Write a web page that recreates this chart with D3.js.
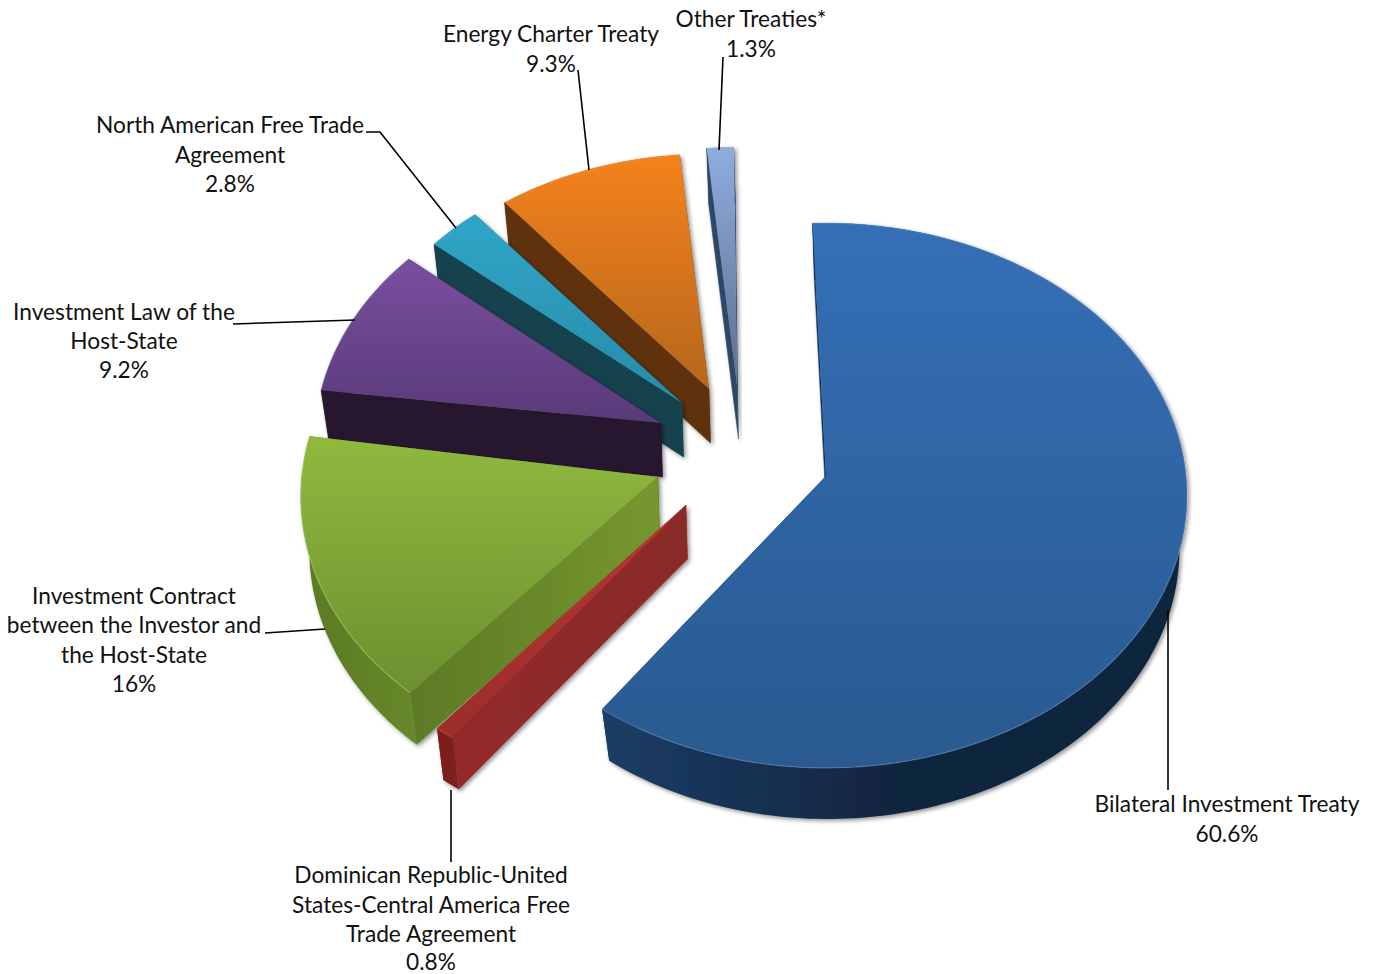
<!DOCTYPE html>
<html><head><meta charset="utf-8">
<script src="https://cdn.jsdelivr.net/npm/d3@7"></script>
<style>html,body{margin:0;padding:0;background:#fff}svg{display:block}
text{font-family:Lato,"Open Sans",sans-serif;font-size:22.7px;fill:#111;text-anchor:middle}</style>
</head><body><svg id="c" width="1375" height="974"></svg>
<script>
const categories = ["Bilateral Investment Treaty","Dominican Republic-United States-Central America Free Trade Agreement","Investment Contract between the Investor and the Host-State","Investment Law of the Host-State","North American Free Trade Agreement","Energy Charter Treaty","Other Treaties*"];
const shares = [60.6,0.8,16,9.2,2.8,9.3,1.3];
const valueLabels = ["60.6%","0.8%","16%","9.2%","2.8%","9.3%","1.3%"];

// layout of the exploded slices (screen offsets and per-slice fit)
const apexX = [826,686,658,661,682,709,737];
const apexY = [476,505,477,423,403,389,385];
const scaleX = [1,1.048,.99,.96,.93,.96,1];
const scaleY = [1,.995,1,.98,.967,.93,.94];
const turn = [.2,0,2.6,1,0,2,2];
const lowX = [.975,.98,.98,.98,.98,.98,.98];
const topTones = [["#356fb7","#295a90"],["#b83434","#9c2d2b"],["#90b93e","#6d8f30"],["#7a4fa0","#583a78"],["#2fa6c8","#2a8ba8"],["#f5821f","#b5661f"],["#8fadde","#5c6f8e"]];
const startWallTones = [["#14304f","#14304f"],["#93292a","#8a2b28"],["#5c7a26","#76972f"],["#26192f","#26192f"],["#12424e","#12424e"],["#5f3208","#5f3208"],["#2e4668","#2e4668"]];
const outerWallTones = [["#1c3d66","#11253e"],["#7a1f1f","#8a2424"],["#5a7a24","#6e8f2c"],["#26192f","#26192f"],["#12424e","#12424e"],["#5f3208","#5f3208"],["#2e4668","#2e4668"]];
const rimTones = ["#6a9ad0","#d65a55","#b4d46c","#9a7cc0","#5cc0d8","#f8a860","#b5c8ea"];
const labelLines = [
 {cx:1227,ys:[812,842],t:["Bilateral Investment Treaty","60.6%"]},
 {cx:431,ys:[883,913,942,970],t:["Dominican Republic-United","States-Central America Free","Trade Agreement","0.8%"]},
 {cx:134,ys:[604,633,663,692],t:["Investment Contract","between the Investor and","the Host-State","16%"]},
 {cx:124,ys:[320,349,378],t:["Investment Law of the","Host-State","9.2%"]},
 {cx:230,ys:[133,163,192],t:["North American Free Trade","Agreement","2.8%"]},
 {cx:551,ys:[42,72],t:["Energy Charter Treaty","9.3%"]},
 {cx:751,ys:[27,57],t:["Other Treaties*","1.3%"]}];
const leaders = [[[1168,610],[1168,790]],[[451,790],[451,862]],[[265,633],[325,629]],[[233,324],[355,320]],[[366,132],[380,132],[456,228]],[[578,70],[589,170]],[[723,57],[719,150]]];

const svg = d3.select("#c"), defs = svg.append("defs");
const RX = 360, RY = 271, K = .0716, DEPTH = 54, SHIFT = 1.5, LOWY = .99;
const pieGen = d3.pie().sort(null).value(d=>d).startAngle(-2.5*Math.PI/180).endAngle((360-2.5)*Math.PI/180);
const arcs = pieGen(shares);

function project(i, a, r, lower){
  const th = a + turn[i]*Math.PI/180, u = r*Math.sin(th), v = r*Math.cos(th), s = 1/(1+K*v);
  const x = RX*scaleX[i]*u*s*(lower?lowX[i]:1), y = -RY*scaleY[i]*v*s*(lower?LOWY:1);
  return [apexX[i]+x+(lower?SHIFT:0), apexY[i]+y+(lower?DEPTH:0)];
}
function grad(id,x1,y1,x2,y2,cs){
  const g = defs.append("linearGradient").attr("id",id).attr("gradientUnits","userSpaceOnUse")
    .attr("x1",x1).attr("y1",y1).attr("x2",x2).attr("y2",y2);
  cs.forEach((c,j)=>g.append("stop").attr("offset",j/(cs.length-1)).attr("stop-color",c));
  return `url(#${id})`;
}
const f = defs.append("filter").attr("id","sh").attr("x","-10%").attr("y","-10%").attr("width","120%").attr("height","120%");
f.append("feDropShadow").attr("dx",2).attr("dy",2).attr("stdDeviation",2.2).attr("flood-color","#000").attr("flood-opacity",.42);

const line = d3.line();
const order = d3.range(arcs.length).reverse();
order.forEach(i=>{
  const d = arcs[i], n = Math.max(6,Math.ceil((d.endAngle-d.startAngle)/.02));
  const angs = d3.range(n+1).map(j=>d.startAngle+(d.endAngle-d.startAngle)*j/n);
  const topArc = angs.map(a=>project(i,a,1,false)), lowArc = angs.map(a=>project(i,a,1,true));
  const A = project(i,0,0,false), B = project(i,0,0,true);
  const g = svg.append("g").attr("filter","url(#sh)");
  const xs = topArc.map(p=>p[0]), ys = topArc.map(p=>p[1]);
  const x0 = d3.min(xs), x1 = d3.max(xs.concat(A[0]));
  // hidden end wall, start wall, outer wall, top face
  g.append("path").attr("d",line([A,topArc[n],lowArc[n],B])+"Z").attr("fill",startWallTones[i][0]);
  g.append("path").attr("d",line([A,topArc[0],lowArc[0],B])+"Z")
    .attr("fill",grad("sw"+i,topArc[0][0],0,A[0],0,startWallTones[i])).attr("stroke",startWallTones[i][0]).attr("stroke-width",.5);
  g.append("path").attr("d",line(topArc.concat(lowArc.slice().reverse()))+"Z")
    .attr("fill",grad("ow"+i,x0,0,x0+Math.max(60,(x1-x0)*.5),0,outerWallTones[i]));
  const gy0 = d3.min(ys.concat(A[1])), gy1 = d3.max(ys.concat(A[1]));
  g.append("path").attr("d",line([A].concat(topArc))+"Z").attr("fill",grad("tp"+i,0,gy0,0,gy1,topTones[i]));
  g.append("path").attr("d",line(topArc)).attr("fill","none").attr("stroke",rimTones[i]).attr("stroke-width",1.2).attr("stroke-opacity",.45);
});

svg.append("g").selectAll("path").data(leaders).join("path")
  .attr("d",d=>line(d)).attr("fill","none").attr("stroke","#000").attr("stroke-width",1.6);

labelLines.forEach(l=>{
  l.t.forEach((s,j)=>svg.append("text").attr("x",l.cx).attr("y",l.ys[j]).text(s));
});
</script></body></html>
